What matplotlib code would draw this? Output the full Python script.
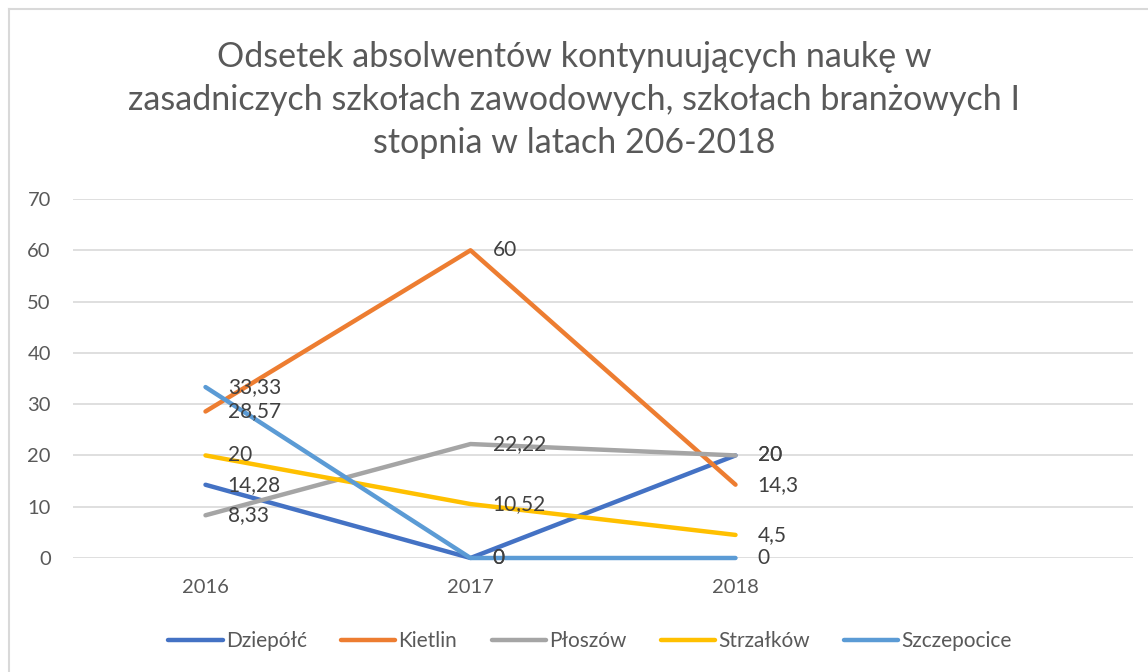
import matplotlib
matplotlib.use("Agg")
from matplotlib import pyplot as plt
from matplotlib.lines import Line2D

# Data
categories = ["2016", "2017", "2018", ""]
dziepolc = [14.28, 0, 20]
kietlin = [28.57, 60, 14.3]
ploszow = [8.33, 22.22, 20]
strzalkow = [20, 10.52, 4.5]
szczepocice = [33.33, 0, 0]

series_names = ["Dziepółć", "Kietlin", "Płoszów", "Strzałków", "Szczepocice"]
series_values = [dziepolc, kietlin, ploszow, strzalkow, szczepocice]
colors = ["#4472C4", "#ED7D31", "#A5A5A5", "#FFC000", "#5B9BD5"]

title = ("Odsetek absolwentów kontynuujących naukę w\n"
         "zasadniczych szkołach zawodowych, szkołach branżowych I\n"
         "stopnia w latach 206-2018")

plt.rcParams["font.family"] = ["Lato", "DejaVu Sans"]

fig = plt.figure(figsize=(11.48, 6.72), dpi=100)
ax = fig.add_axes([73 / 1148, 1 - 558 / 672, (1133 - 73) / 1148, (558 - 199) / 672])

x = list(range(len(categories)))

for name, vals, col in zip(series_names, series_values, colors):
    xs = x[:len(vals)]
    ax.plot(xs, vals, color=col, linewidth=3.2, solid_capstyle="round",
            solid_joinstyle="round", label=name, zorder=3, clip_on=False)
    for xi, v in zip(xs, vals):
        ax.annotate(f"{v:g}".replace(".", ","), (xi, v), xytext=(16, 0),
                    textcoords="offset points", ha="left", va="center",
                    fontsize=15, color="#404040", zorder=4)

ax.set_xlim(-0.5, len(categories) - 0.5)
ax.set_ylim(0, 70)
ax.set_yticks(range(0, 71, 10))
ax.set_xticks(x)
ax.set_xticklabels(categories)
ax.tick_params(axis="both", length=0, labelsize=14.5, labelcolor="#595959")
ax.tick_params(axis="y", pad=16)
ax.tick_params(axis="x", pad=15)
ax.grid(True, axis="y", color="#D9D9D9", linewidth=1.2)
ax.set_axisbelow(True)
for s in ax.spines.values():
    s.set_visible(False)

# Title
fig.text(0.5, 1 - 100 / 672, title, ha="center", va="center", fontsize=24.5,
         color="#595959", linespacing=1.42)

# Legend
ax.legend(loc="center", bbox_to_anchor=(590 / 1148, 1 - 641 / 672),
          bbox_transform=fig.transFigure, ncol=5, frameon=False, fontsize=15,
          handlelength=2.6, handletextpad=0.15, columnspacing=1.65,
          labelcolor="#595959")

# Chart border (top and left visible)
fig.add_artist(Line2D([9 / 1148, 9 / 1148], [0, 1 - 9 / 672],
                      transform=fig.transFigure, color="#D9D9D9", linewidth=1.5))
fig.add_artist(Line2D([9 / 1148, 1], [1 - 9 / 672, 1 - 9 / 672],
                      transform=fig.transFigure, color="#D9D9D9", linewidth=1.5))

plt.savefig("out.png", dpi=100)
